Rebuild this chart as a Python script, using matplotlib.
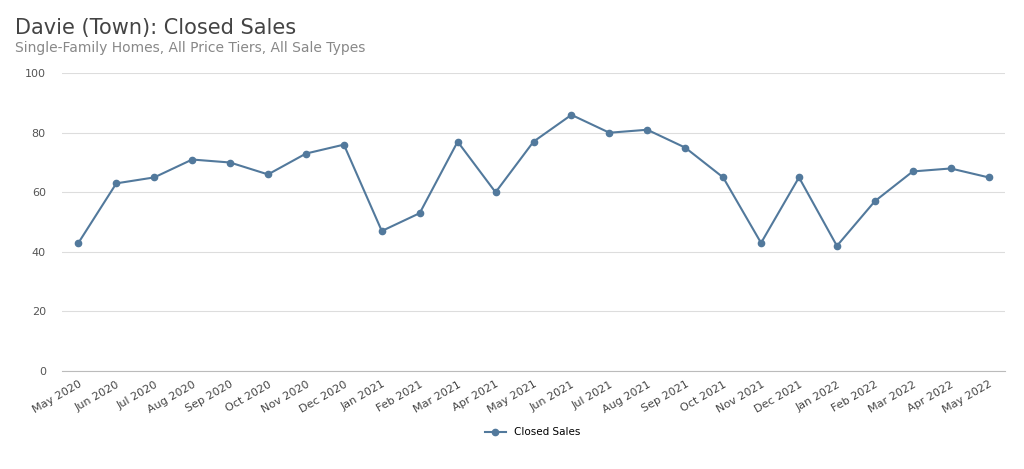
import matplotlib
matplotlib.use("Agg")
import matplotlib.pyplot as plt

months = ["May 2020","Jun 2020","Jul 2020","Aug 2020","Sep 2020","Oct 2020","Nov 2020","Dec 2020",
          "Jan 2021","Feb 2021","Mar 2021","Apr 2021","May 2021","Jun 2021","Jul 2021","Aug 2021",
          "Sep 2021","Oct 2021","Nov 2021","Dec 2021","Jan 2022","Feb 2022","Mar 2022","Apr 2022","May 2022"]
closed_sales = [43,63,65,71,70,66,73,76,47,53,77,60,77,86,80,81,75,65,43,65,42,57,67,68,65]
y_ticks = [0,20,40,60,80,100]

color = "#52799c"
fig = plt.figure(figsize=(10.24,4.69), dpi=100)
ax = fig.add_axes([0.061,0.209,0.92,0.635])
x = list(range(len(months)))
ax.plot(x, closed_sales, color=color, lw=1.5, marker="o", ms=4.5, label="Closed Sales")
ax.set_ylim(0,100)
ax.set_xlim(-0.42, len(months)-1+0.42)
ax.set_yticks(y_ticks)
ax.set_xticks(x)
ax.set_xticklabels(months, rotation=30, ha="right", rotation_mode="anchor", fontsize=8, color="#444444")
ax.tick_params(axis="y", labelsize=8, labelcolor="#555555", length=0, pad=12)
ax.tick_params(axis="x", length=0, pad=6)
ax.grid(axis="y", color="#dddddd", lw=0.8)
for s in ["top","right","left"]:
    ax.spines[s].set_visible(False)
ax.spines["bottom"].set_color("#bbbbbb")
fig.text(0.015,0.94,"Davie (Town): Closed Sales", fontsize=15, color="#444444", va="center")
fig.text(0.015,0.898,"Single-Family Homes, All Price Tiers, All Sale Types", fontsize=10, color="#888888", va="center")
fig.legend(loc="center", bbox_to_anchor=(0.52,0.078), frameon=False, fontsize=7.5)
fig.savefig("out.png", dpi=100, facecolor="white")
